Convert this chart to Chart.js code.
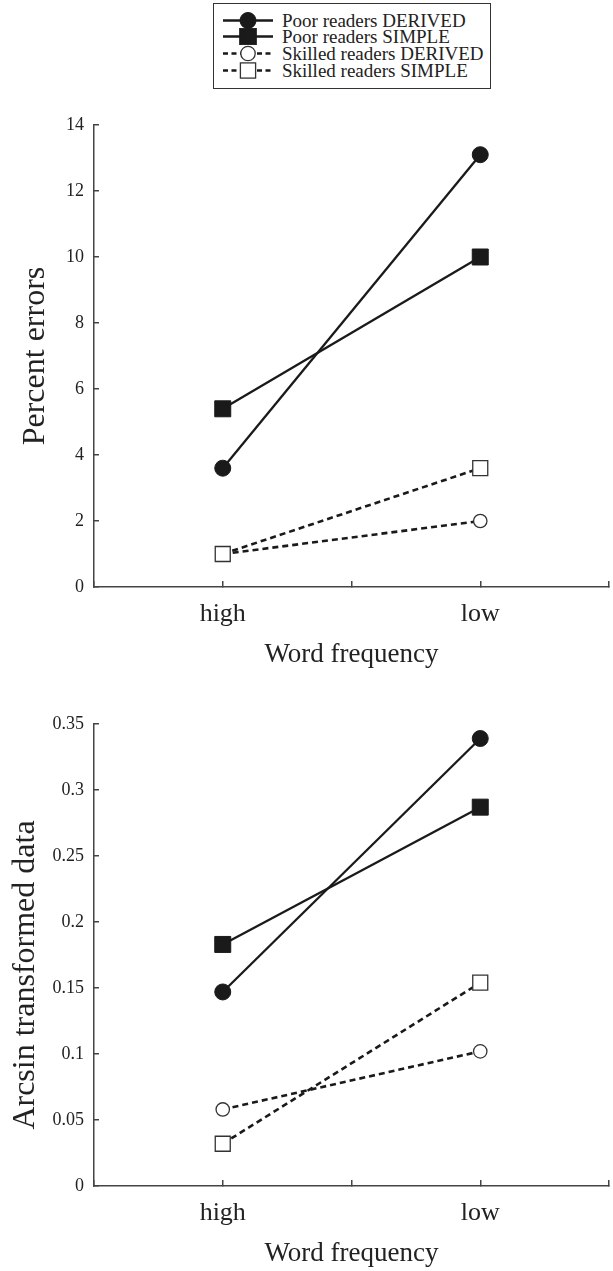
<!DOCTYPE html>
<html>
<head>
<meta charset="utf-8">
<script src="https://cdn.jsdelivr.net/npm/chart.js@4.4.0/dist/chart.umd.min.js"></script>
<style>
html,body{margin:0;padding:0;background:#fff;width:613px;height:1271px;overflow:hidden;}
#wrap{position:relative;width:613px;height:1271px;font-family:"Liberation Serif","Times New Roman",serif;color:#222;}
#c1{position:absolute;left:0;top:0;}
#c2{position:absolute;left:0;top:680px;}
#legend{position:absolute;left:213px;top:3px;width:278px;height:86px;border:1.5px solid #333;box-sizing:border-box;background:#fff;z-index:2;}
.row{position:absolute;left:8px;height:17px;line-height:17px;font-size:19px;white-space:nowrap;}
.row svg{position:absolute;left:0;top:0;}
.row span{position:absolute;left:60px;top:0;}
</style>
</head>
<body>
<div id="wrap">
  <canvas id="c1" width="613" height="680"></canvas>
  <canvas id="c2" width="613" height="591"></canvas>
  <div id="legend"></div>
</div>
<script>
// ---- data ----
const categories = ['high', 'low'];
const seriesNames = ['Poor readers DERIVED', 'Poor readers SIMPLE', 'Skilled readers DERIVED', 'Skilled readers SIMPLE'];

// Percent errors
const poorDerivedPct = [3.6, 13.1];
const poorSimplePct = [5.4, 10.0];
const skilledDerivedPct = [1.0, 2.0];
const skilledSimplePct = [1.0, 3.6];

// Arcsin transformed data
const poorDerivedArc = [0.147, 0.339];
const poorSimpleArc = [0.183, 0.287];
const skilledDerivedArc = [0.058, 0.102];
const skilledSimpleArc = [0.032, 0.154];

// tick labels
const pctTicks = [0, 2, 4, 6, 8, 10, 12, 14];
const arcTicks = [0, 0.05, 0.1, 0.15, 0.2, 0.25, 0.3, 0.35];

// ---- styles ----
const FONT = '"Liberation Serif", "Times New Roman", serif';
const INK = '#1a1a1a';
const AXIS = '#444';

const styles = [
  {pointStyle: 'circle', pointRadius: 8, pointBackgroundColor: INK, pointBorderColor: INK, pointBorderWidth: 1, borderDash: [], borderWidth: 2.3, order: 0},
  {pointStyle: 'rect', pointRadius: 11.3, pointBackgroundColor: INK, pointBorderColor: INK, pointBorderWidth: 1, borderDash: [], borderWidth: 2.3, order: 1},
  {pointStyle: 'circle', pointRadius: 6.7, pointBackgroundColor: '#fff', pointBorderColor: '#333', pointBorderWidth: 1.3, borderDash: [6, 4], borderWidth: 2.6, order: 3},
  {pointStyle: 'rect', pointRadius: 10.6, pointBackgroundColor: '#fff', pointBorderColor: '#333', pointBorderWidth: 1.3, borderDash: [6, 4], borderWidth: 2.6, order: 2}
];

function toPoints(values) {
  return values.map((v, i) => ({x: i + 1, y: v}));
}

function makeDatasets(seriesList) {
  return seriesList.map((vals, k) => Object.assign({
    label: seriesNames[k],
    data: toPoints(vals),
    borderColor: INK,
    showLine: true,
    fill: false,
    tension: 0,
    pointHoverRadius: 0
  }, styles[k]));
}

function fmt(v) {
  return String(Number(v.toFixed(2)));
}

function makeOptions(yTicks, yTitle, yTitlePad, padding) {
  const xTickVals = [];
  categories.forEach((c, i) => { xTickVals.push(i + 0.5); xTickVals.push(i + 1); });
  xTickVals.push(categories.length + 0.5);
  return {
    responsive: false,
    animation: false,
    events: [],
    layout: {padding: padding, autoPadding: false},
    plugins: {legend: {display: false}, tooltip: {enabled: false}},
    scales: {
      x: {
        type: 'linear',
        min: 0.5,
        max: categories.length + 0.5,
        afterBuildTicks: (s) => { s.ticks = xTickVals.map(v => ({value: v})); },
        afterFit: (s) => { s.height = 85; s.paddingLeft = 0; s.paddingRight = 0; },
        ticks: {
          autoSkip: false,
          maxRotation: 0,
          padding: 18,
          color: '#222',
          font: {family: FONT, size: 26},
          callback: (v) => Number.isInteger(v) ? categories[v - 1] : ''
        },
        grid: {drawOnChartArea: false, drawTicks: true, tickLength: -6, color: AXIS, lineWidth: 1.5},
        border: {display: true, color: AXIS, width: 1.5},
        title: {display: true, text: 'Word frequency', color: '#222', font: {family: FONT, size: 27}, padding: {top: 0, bottom: 1}}
      },
      y: {
        type: 'linear',
        min: yTicks[0],
        max: yTicks[yTicks.length - 1],
        afterBuildTicks: (s) => { s.ticks = yTicks.map(v => ({value: v})); },
        afterFit: (s) => { s.width = 94; s.paddingTop = 0; s.paddingBottom = 0; },
        ticks: {
          padding: 15,
          color: '#222',
          font: {family: FONT, size: 18},
          callback: (v) => fmt(v)
        },
        grid: {drawOnChartArea: false, drawTicks: true, tickLength: -5, color: AXIS, lineWidth: 1.5},
        border: {display: true, color: AXIS, width: 1.5},
        title: {display: true, text: yTitle, color: '#222', font: {family: FONT, size: 32}, padding: {top: yTitlePad, bottom: 0}}
      }
    }
  };
}

new Chart(document.getElementById('c1'), {
  type: 'scatter',
  data: {datasets: makeDatasets([poorDerivedPct, poorSimplePct, skilledDerivedPct, skilledSimplePct])},
  options: makeOptions(pctTicks, 'Percent errors', 16.8, {top: 125, right: 4, bottom: 8, left: 0})
});

new Chart(document.getElementById('c2'), {
  type: 'scatter',
  data: {datasets: makeDatasets([poorDerivedArc, poorSimpleArc, skilledDerivedArc, skilledSimpleArc])},
  options: makeOptions(arcTicks, 'Arcsin transformed data' + '\u00A0'.repeat(5), 6.8, {top: 44, right: 4, bottom: 0, left: 0})
});

// ---- legend ----
const legend = document.getElementById('legend');
const rowCenters = [20.7, 37.2, 53.9, 70.6];
seriesNames.forEach((name, k) => {
  const st = styles[k];
  const row = document.createElement('div');
  row.className = 'row';
  row.style.top = (rowCenters[k] - 3 - 1.5 - 8.5) + 'px';
  const dash = st.borderDash.length ? ' stroke-dasharray="5,3.5"' : '';
  const fill = st.pointBackgroundColor;
  const stroke = st.pointBorderColor;
  let marker;
  if (st.pointStyle === 'circle') {
    const r = k === 0 ? 8 : 7.2;
    marker = `<circle cx="26" cy="8.5" r="${r}" fill="${fill}" stroke="${stroke}" stroke-width="${st.pointBorderWidth}"/>`;
  } else {
    const h = k === 1 ? 8.3 : 7.6;
    marker = `<rect x="${26 - h}" y="${8.5 - h}" width="${2 * h}" height="${2 * h}" fill="${fill}" stroke="${stroke}" stroke-width="${st.pointBorderWidth}"/>`;
  }
  row.innerHTML = `<svg width="54" height="17" viewBox="0 0 54 17"><line x1="1" y1="8.5" x2="51" y2="8.5" stroke="${INK}" stroke-width="2.4"${dash}/>${marker}</svg><span>${name}</span>`;
  legend.appendChild(row);
});
</script>
</body>
</html>
